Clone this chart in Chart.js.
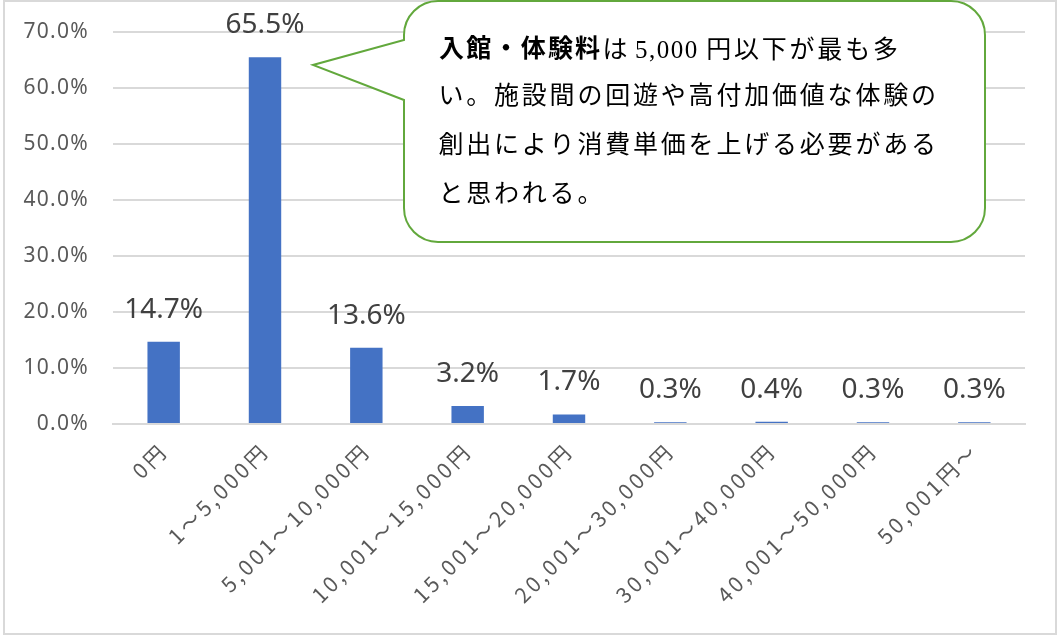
<!DOCTYPE html>
<html>
<head>
<meta charset="utf-8">
<script src="https://cdn.jsdelivr.net/npm/chart.js@4/dist/chart.umd.min.js"></script>
<style>
  html, body { margin: 0; padding: 0; background: #ffffff; }
  #wrap { position: relative; width: 1060px; height: 642px; }
</style>
</head>
<body>
<div id="wrap"><canvas id="c"></canvas></div>
<script>
// ---- data ----
const categories = ['0円', '1～5,000円', '5,001～10,000円', '10,001～15,000円', '15,001～20,000円',
                    '20,001～30,000円', '30,001～40,000円', '40,001～50,000円', '50,001円～'];
const values = [14.7, 65.5, 13.6, 3.2, 1.7, 0.3, 0.4, 0.3, 0.3];
const yMin = 0, yMax = 70, yStep = 10;
// callout text
const calloutRuns = [
  { text: '入館・体験料', bold: true },
  { text: 'は', bold: false },
  { text: '5,000', bold: false, latin: true },
  { text: '円以下が最も多', bold: false }
];
const calloutLines = [
  'い。施設間の回遊や高付加価値な体験の',
  '創出により消費単価を上げる必要がある',
  'と思われる。'
];

const SANS = "'Noto Sans', 'Noto Sans CJK JP', sans-serif";
const CJKF = "'Noto Sans CJK JP', sans-serif";

// data labels above bars
const dataLabelPlugin = {
  id: 'dataLabels',
  afterDatasetsDraw(chart) {
    const ctx = chart.ctx;
    const meta = chart.getDatasetMeta(0);
    ctx.save();
    ctx.font = "28px " + SANS;
    ctx.fillStyle = '#404040';
    ctx.textAlign = 'center';
    ctx.textBaseline = 'middle';
    meta.data.forEach((bar, i) => {
      ctx.fillText(values[i].toFixed(1) + '%', bar.x, bar.y - 32);
    });
    ctx.restore();
  }
};

// letter spacing on axis tick labels (Excel-like spacing)
const tickSpacingPlugin = {
  id: 'tickSpacing',
  afterLayout(chart) {
    const spacing = { x: '3.2px', y: '1.3px' };
    Object.keys(spacing).forEach((id) => {
      const s = chart.scales[id];
      if (s && !s._spaced) {
        const orig = s.drawLabels;
        s.drawLabels = function (ca) {
          const ctx = this.ctx;
          ctx.save();
          try { ctx.letterSpacing = spacing[id]; } catch (e) {}
          orig.call(this, ca);
          ctx.restore();
        };
        s._spaced = true;
      }
    });
  }
};

// outer frame
const framePlugin = {
  id: 'frame',
  beforeDraw(chart) {
    const ctx = chart.ctx;
    ctx.save();
    ctx.fillStyle = '#ffffff';
    ctx.fillRect(0, 0, chart.width, chart.height);
    ctx.strokeStyle = '#d9d9d9';
    ctx.lineWidth = 2;
    ctx.strokeRect(4, 1, 1052, 633);
    ctx.restore();
  }
};

// draw CJK text on a fixed character pitch
function drawPitched(ctx, text, x, y, pitch) {
  ctx.textAlign = 'center';
  Array.from(text).forEach((ch, i) => ctx.fillText(ch, x + pitch * i + pitch / 2, y));
  return x + pitch * Array.from(text).length;
}

// speech-bubble callout
const calloutPlugin = {
  id: 'callout',
  afterDraw(chart) {
    const ctx = chart.ctx;
    const L = 404, R = 985, T = 1, B = 242, r = 34;
    const tipX = 313, tipY = 65, b1 = 40, b2 = 100;
    ctx.save();
    ctx.beginPath();
    ctx.moveTo(L + r, T);
    ctx.lineTo(R - r, T);
    ctx.arcTo(R, T, R, T + r, r);
    ctx.lineTo(R, B - r);
    ctx.arcTo(R, B, R - r, B, r);
    ctx.lineTo(L + r, B);
    ctx.arcTo(L, B, L, B - r, r);
    ctx.lineTo(L, b2);
    ctx.lineTo(tipX, tipY);
    ctx.lineTo(L, b1);
    ctx.lineTo(L, T + r);
    ctx.arcTo(L, T, L + r, T, r);
    ctx.closePath();
    ctx.fillStyle = '#ffffff';
    ctx.fill();
    ctx.strokeStyle = '#62a83c';
    ctx.lineWidth = 2;
    ctx.stroke();

    const fam = "'Liberation Serif', 'Noto Sans CJK JP', serif";
    ctx.textBaseline = 'middle';
    ctx.fillStyle = '#000000';
    const lineY = [51, 97, 146, 195];
    const pitch = 27.8;
    // first line
    let x = 438;
    calloutRuns.forEach((run) => {
      ctx.font = (run.bold ? 'bold ' : '') + '25px ' + fam;
      if (run.latin) {
        x += 6;
        ctx.textAlign = 'left';
        try { ctx.letterSpacing = '1.5px'; } catch (e) {}
        ctx.fillText(run.text, x, lineY[0]);
        x += ctx.measureText(run.text).width + 6;
        try { ctx.letterSpacing = '0px'; } catch (e) {}
      } else {
        x = drawPitched(ctx, run.text, x, lineY[0], run.bold ? 27.2 : pitch);
      }
    });
    ctx.font = '25px ' + fam;
    calloutLines.forEach((line, i) => drawPitched(ctx, line, 437, lineY[i + 1], pitch));
    ctx.restore();
  }
};

new Chart(document.getElementById('c'), {
  type: 'bar',
  data: {
    labels: categories,
    datasets: [{
      data: values,
      backgroundColor: '#4472c4',
      borderWidth: 0,
      barPercentage: 0.32,
      categoryPercentage: 1.0
    }]
  },
  options: {
    responsive: true,
    maintainAspectRatio: false,
    animation: false,
    devicePixelRatio: 1,
    layout: { padding: { top: 32, right: 35, left: 0, bottom: 0 } },
    plugins: {
      legend: { display: false },
      tooltip: { enabled: false },
      title: { display: false }
    },
    scales: {
      x: {
        grid: { display: false, drawTicks: false },
        border: { display: true, color: '#d9d9d9', width: 2 },
        ticks: {
          autoSkip: false,
          minRotation: 45,
          maxRotation: 45,
          padding: 14,
          color: '#595959',
          font: { family: CJKF, size: 21 }
        },
        afterFit(scale) { scale.height = 218; scale.paddingLeft = 0; scale.paddingRight = 0; }
      },
      y: {
        min: yMin,
        max: yMax,
        grid: { color: '#d9d9d9', lineWidth: 2, drawTicks: false },
        border: { display: false },
        ticks: {
          stepSize: yStep,
          padding: 24,
          color: '#595959',
          font: { family: SANS, size: 21 },
          callback: (v) => Number(v).toFixed(1) + '%'
        },
        afterFit(scale) { scale.width = 113; scale.paddingTop = 0; scale.paddingBottom = 0; }
      }
    }
  },
  plugins: [framePlugin, tickSpacingPlugin, dataLabelPlugin, calloutPlugin]
});
</script>
</body>
</html>
